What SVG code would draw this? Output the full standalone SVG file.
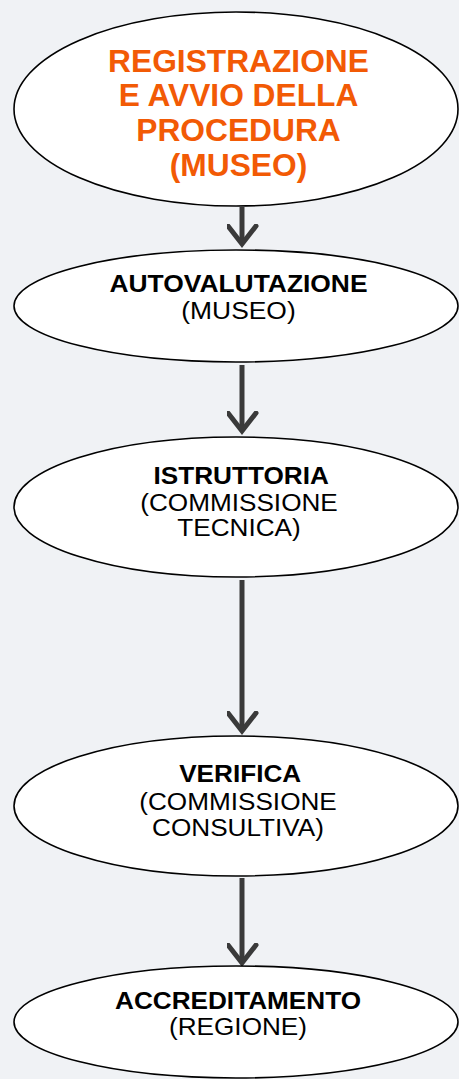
<svg xmlns="http://www.w3.org/2000/svg" width="459" height="1079" viewBox="0 0 459 1079">
<defs>
<marker id="chev" markerUnits="userSpaceOnUse" markerWidth="40" markerHeight="40" viewBox="-20 -25 40 40" refX="0" refY="0" orient="auto">
<polyline points="-18,-14 0,0 -18,14" fill="none" stroke="#3a3a3a" stroke-width="5" stroke-linecap="round" stroke-linejoin="miter"/>
</marker>
<style>
.node{fill:#ffffff;stroke:#000;stroke-width:1.6}
.t{font-family:"Liberation Sans",Arial,sans-serif;text-anchor:middle;fill:#000}
.b{font-weight:bold}
.o{fill:#f25a05;font-weight:bold;font-size:30.5px}
.s{font-size:24px}
.conn{stroke:#3a3a3a;stroke-width:5;fill:none}
</style>
</defs>
<rect x="0" y="0" width="459" height="1079" fill="#f0f2f5"/>
<g id="connectors">
<line class="conn" x1="242" y1="207" x2="242" y2="244" marker-end="url(#chev)"/>
<line class="conn" x1="242" y1="365" x2="242" y2="431" marker-end="url(#chev)"/>
<line class="conn" x1="242" y1="580" x2="242" y2="731" marker-end="url(#chev)"/>
<line class="conn" x1="242" y1="878" x2="242" y2="963" marker-end="url(#chev)"/>
</g>
<g id="n1">
<ellipse class="node" cx="236" cy="109" rx="222" ry="97"/>
<g transform="translate(238.5,0) scale(1.04,1)">
<text class="t o" x="0" y="72">REGISTRAZIONE</text>
<text class="t o" x="0" y="106.5">E AVVIO DELLA</text>
<text class="t o" x="0" y="141.5">PROCEDURA</text>
<text class="t o" x="0" y="176.5">(MUSEO)</text>
</g>
</g>
<g id="n2">
<ellipse class="node" cx="236" cy="306" rx="222" ry="56"/>
<g transform="translate(238.5,0) scale(1.1,1)">
<text class="t b s" x="0" y="292">AUTOVALUTAZIONE</text>
<text class="t s" x="0" y="319">(MUSEO)</text>
</g>
</g>
<g id="n3">
<ellipse class="node" cx="236" cy="507" rx="222" ry="70"/>
<g transform="translate(239,0) scale(1.09,1)">
<text class="t b s" x="2" y="484.5">ISTRUTTORIA</text>
<text class="t s" x="0" y="511">(COMMISSIONE</text>
<text class="t s" x="0" y="536.5">TECNICA)</text>
</g>
</g>
<g id="n4">
<ellipse class="node" cx="236" cy="806" rx="222" ry="70"/>
<g transform="translate(238,0) scale(1.09,1)">
<text class="t b s" x="2" y="782.5">VERIFICA</text>
<text class="t s" x="0" y="810.5">(COMMISSIONE</text>
<text class="t s" x="0" y="836">CONSULTIVA)</text>
</g>
</g>
<g id="n5">
<ellipse class="node" cx="236" cy="1022" rx="222" ry="56"/>
<g transform="translate(238,0) scale(1.09,1)">
<text class="t b s" x="0" y="1009">ACCREDITAMENTO</text>
<text class="t s" x="0" y="1035.5">(REGIONE)</text>
</g>
</g>
</svg>
